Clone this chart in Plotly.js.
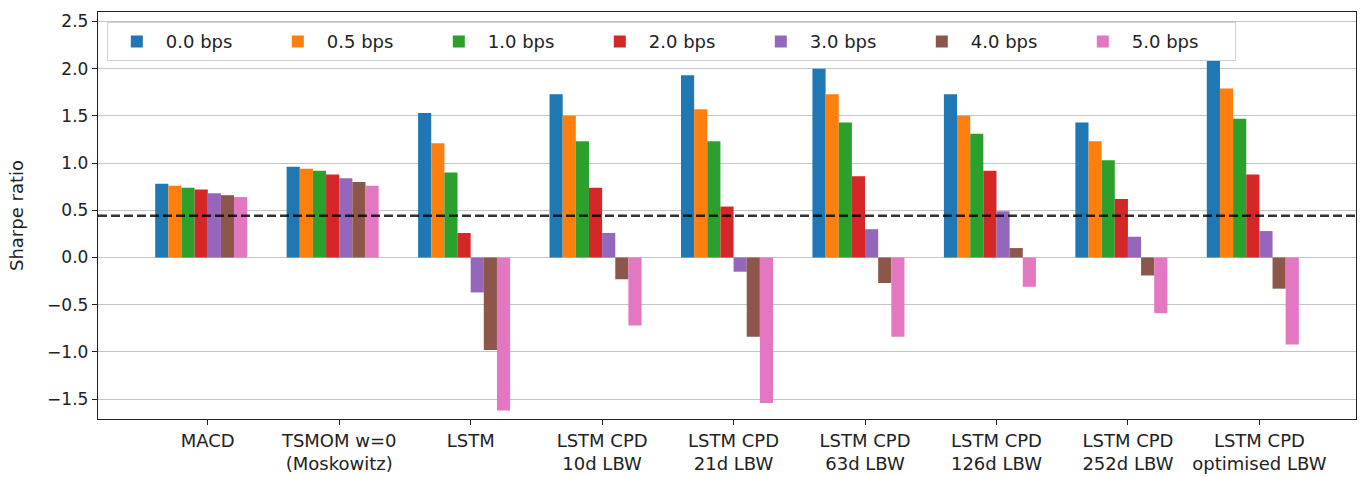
<!DOCTYPE html>
<html>
<head>
<meta charset="utf-8">
<script src="https://cdn.plot.ly/plotly-3.0.1.min.js"></script>
<style>html,body{margin:0;padding:0;background:#fff;}#chart{width:1363px;height:477px;}</style>
</head>
<body>
<div id="chart"></div>
<script>
const categories = ["MACD", "TSMOM w=0<br>(Moskowitz)", "LSTM", "LSTM CPD<br>10d LBW", "LSTM CPD<br>21d LBW", "LSTM CPD<br>63d LBW", "LSTM CPD<br>126d LBW", "LSTM CPD<br>252d LBW", "LSTM CPD<br>optimised LBW"];
const seriesNames = ["0.0 bps", "0.5 bps", "1.0 bps", "2.0 bps", "3.0 bps", "4.0 bps", "5.0 bps"];
const bps00 = [0.78, 0.96, 1.53, 1.73, 1.93, 2.00, 1.73, 1.43, 2.08];
const bps05 = [0.76, 0.94, 1.21, 1.50, 1.57, 1.73, 1.50, 1.23, 1.79];
const bps10 = [0.74, 0.92, 0.90, 1.23, 1.23, 1.43, 1.31, 1.03, 1.47];
const bps20 = [0.72, 0.88, 0.26, 0.74, 0.54, 0.86, 0.92, 0.62, 0.88];
const bps30 = [0.68, 0.84, -0.37, 0.26, -0.15, 0.30, 0.49, 0.22, 0.28];
const bps40 = [0.66, 0.80, -0.98, -0.23, -0.84, -0.27, 0.10, -0.19, -0.33];
const bps50 = [0.64, 0.76, -1.62, -0.72, -1.54, -0.84, -0.31, -0.59, -0.92];
const benchmark = 0.443;
const yTicks = [-1.5, -1.0, -0.5, 0.0, 0.5, 1.0, 1.5, 2.0, 2.5];

const series = [bps00, bps05, bps10, bps20, bps30, bps40, bps50];
const colors = ["#1f77b4", "#ff7f0e", "#2ca02c", "#d62728", "#9467bd", "#8c564b", "#e377c2"];
const barW = 0.1;

const traces = series.map((vals, i) => ({
  type: "bar",
  name: seriesNames[i],
  x: categories,
  y: vals,
  width: barW,
  offset: (i - 4) * barW,
  marker: {color: colors[i], line: {width: 0}},
  hoverinfo: "y+name"
}));

const layout = {
  width: 1363, height: 477,
  margin: {l: 98, r: 7, t: 12, b: 58},
  paper_bgcolor: "#fff", plot_bgcolor: "#fff",
  barmode: "overlay",
  font: {family: "DejaVu Sans", size: 17, color: "#222"},
  showlegend: true,
  legend: {
    orientation: "h", x: 0.007, y: 0.975, xanchor: "left", yanchor: "top",
    bgcolor: "rgba(255,255,255,0.8)", bordercolor: "#d0d0d0", borderwidth: 1,
    font: {family: "DejaVu Sans", size: 18, color: "#222"},
    entrywidth: 98, itemwidth: 48, traceorder: "normal"
  },
  xaxis: {
    type: "category",
    range: [-0.835, 8.735],
    showgrid: false, zeroline: false,
    showline: true, linecolor: "#222", linewidth: 1.2, mirror: true,
    ticks: "outside", ticklen: 5, tickcolor: "#222",
    tickfont: {family: "DejaVu Sans", size: 18, color: "#222"},
    layer: "above traces"
  },
  yaxis: {
    range: [-1.71, 2.6],
    tickvals: yTicks,
    ticktext: yTicks.map(v => (v < 0 ? "\u2212" : "") + Math.abs(v).toFixed(1)),
    showgrid: true, gridcolor: "#c4c4c4", gridwidth: 1,
    zeroline: false,
    showline: true, linecolor: "#222", linewidth: 1.2, mirror: true,
    ticks: "outside", ticklen: 5, tickcolor: "#222",
    tickfont: {family: "DejaVu Sans", size: 17, color: "#222"},
    title: {text: "Sharpe ratio", font: {family: "DejaVu Sans", size: 18, color: "#222"}, standoff: 18},
    layer: "above traces"
  },
  shapes: [{
    type: "line", xref: "paper", x0: 0, x1: 1, yref: "y", y0: benchmark, y1: benchmark,
    line: {color: "rgba(0,0,0,0.8)", width: 2.5, dash: "9px,4px"}
  }]
};

Plotly.newPlot("chart", traces, layout, {displayModeBar: false, staticPlot: true});
</script>
</body>
</html>
